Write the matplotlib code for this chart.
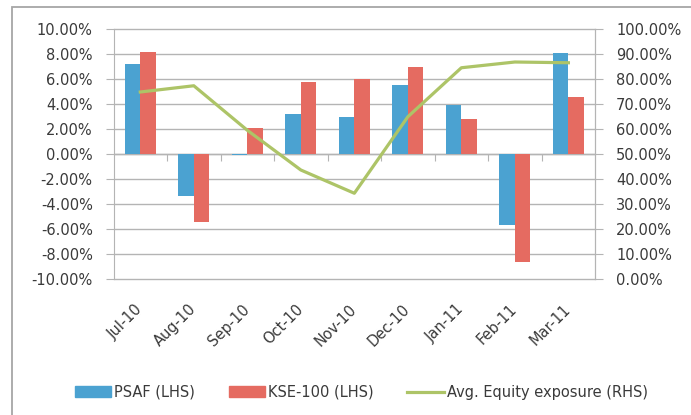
import numpy as np
import matplotlib
matplotlib.use("Agg")
import matplotlib.pyplot as plt
from matplotlib.patches import Rectangle, Patch
from matplotlib.lines import Line2D
from matplotlib.ticker import FuncFormatter

months = ["Jul-10", "Aug-10", "Sep-10", "Oct-10", "Nov-10", "Dec-10", "Jan-11", "Feb-11", "Mar-11"]
psaf = [7.2, -3.35, -0.1, 3.2, 2.95, 5.55, 3.9, -5.65, 8.05]
kse100 = [8.2, -5.4, 2.1, 5.8, 6.0, 7.0, 2.8, -8.6, 4.6]
equity = [74.8, 77.3, 59.5, 43.6, 34.3, 64.9, 84.5, 86.8, 86.5]

blue = "#4BA2D1"
red = "#E56B61"
green = "#ADC467"
grid_c = "#B4B4B4"

plt.rcParams['font.family'] = ['DejaVu Sans']
plt.rcParams['font.size'] = 10.5
plt.rcParams['text.color'] = "#3A3A3A"

fig = plt.figure(figsize=(6.91, 4.15), dpi=100)
ax = fig.add_axes([0.1643, 0.3277, 0.6970, 0.6024])

x = np.arange(len(months))
w = 0.29
ax.bar(x - w / 2, psaf, w, color=blue, zorder=3)
ax.bar(x + w / 2, kse100, w, color=red, zorder=3)

ax.set_xlim(-0.5, len(months) - 0.5)
ax.set_ylim(-10, 10)
ax.set_yticks(np.arange(-10, 10.1, 2))
ax.yaxis.set_major_formatter(FuncFormatter(lambda v, p: f"{v:.2f}%"))
ax.grid(axis='y', color=grid_c, lw=1, zorder=0)
for gl in ax.get_ygridlines():
    gl.set_clip_on(False)
ax.tick_params(axis='y', length=6, color=grid_c, labelcolor="#3A3A3A", pad=9)

ax.set_xticks(x)
ax.set_xticklabels(months, rotation=45, ha='right', va='center', rotation_mode='anchor')
ax.tick_params(axis='x', length=0, pad=20, labelcolor="#3A3A3A")

for s in ["top", "bottom"]:
    ax.spines[s].set_visible(False)
ax.spines["left"].set_color(grid_c)
ax.spines["right"].set_color(grid_c)

# zero line with category boundary ticks
ax.axhline(0, color=grid_c, lw=1, zorder=2)
zero = ax.secondary_xaxis(0.5)
zero.set_xticks(np.arange(0.5, len(months) - 0.5, 1))
zero.set_xticklabels([])
zero.tick_params(axis='x', which='both', direction='in', length=5, color=grid_c,
                 labeltop=False, labelbottom=False)
zero.spines[:].set_visible(False)

ax2 = ax.twinx()
ax2.plot(x, equity, color=green, lw=2.3, zorder=4)
ax2.set_ylim(0, 100)
ax2.set_yticks(np.arange(0, 101, 10))
ax2.yaxis.set_major_formatter(FuncFormatter(lambda v, p: f"{v:.2f}%"))
ax2.tick_params(axis='y', length=6, color=grid_c, labelcolor="#3A3A3A", pad=9)
for s in ["top", "bottom", "left"]:
    ax2.spines[s].set_visible(False)
ax2.spines["right"].set_color(grid_c)

handles = [Patch(color=blue), Patch(color=red), Line2D([], [], color=green, lw=2.3)]
labels = ["PSAF (LHS)", "KSE-100 (LHS)", "Avg. Equity exposure (RHS)"]
fig.legend(handles, labels, loc='center', bbox_to_anchor=(0.523, 0.055), ncol=3,
           frameon=False, handlelength=2.5, handletextpad=0.2, columnspacing=2.3)

# chart border
fig.patches.append(Rectangle((12 / 691, -0.1), 1.2, 1 - 7 / 415 + 0.1, transform=fig.transFigure,
                             fill=False, ec="#A6A6A6", lw=1.3))

fig.savefig("out.png", dpi=100)
